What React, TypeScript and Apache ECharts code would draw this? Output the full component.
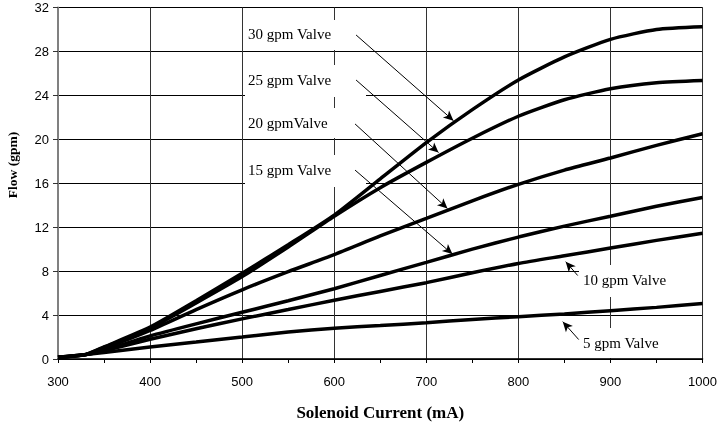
import React, { useEffect, useRef } from "react";
import * as echarts from "echarts";

const currents = [300, 330, 350, 400, 450, 500, 550, 600, 650, 700, 750, 800, 850, 900, 950, 1000];
const flow30 = [0.15, 0.4, 1.1, 2.9, 5.3, 7.8, 10.4, 13.1, 16.4, 19.7, 22.7, 25.4, 27.5, 29.1, 30.0, 30.25];
const flow25 = [0.15, 0.4, 1.05, 2.8, 5.1, 7.5, 10.2, 13.0, 15.6, 17.9, 20.1, 22.1, 23.6, 24.6, 25.15, 25.35];
const flow20 = [0.15, 0.4, 0.95, 2.6, 4.5, 6.3, 7.95, 9.5, 11.2, 12.8, 14.4, 15.9, 17.2, 18.3, 19.45, 20.5];
const flow15 = [0.15, 0.4, 0.8, 2.1, 3.2, 4.25, 5.3, 6.4, 7.6, 8.8, 10.0, 11.1, 12.1, 13.0, 13.9, 14.7];
const flow10 = [0.15, 0.4, 0.75, 1.8, 2.75, 3.65, 4.5, 5.35, 6.15, 6.95, 7.85, 8.7, 9.4, 10.1, 10.8, 11.45];
const flow5 = [0.15, 0.4, 0.6, 1.1, 1.55, 2.0, 2.45, 2.8, 3.05, 3.3, 3.6, 3.85, 4.1, 4.4, 4.7, 5.05];

const seriesNames = ["30 gpm Valve", "25 gpm Valve", "20 gpmValve", "15 gpm Valve", "10 gpm Valve", "5 gpm Valve"];
const seriesValues = [flow30, flow25, flow20, flow15, flow10, flow5];
// arrow start / end in data coordinates (mA, gpm)
const arrowStarts = [[623.7, 29.5], [623.7, 25.4], [622.6, 21.4], [622.6, 17.2], [864.4, 7.6], [865.5, 1.77]];
const arrowEnds = [[729.5, 21.7], [713.3, 18.8], [723, 13.7], [728.4, 9.55], [851.4, 8.86], [848.2, 3.4]];

const xTicks = { min: 300, max: 1000, step: 100 };
const yTicks = { min: 0, max: 32, step: 4 };

const serif = '"Liberation Serif", "Times New Roman", serif';
const sans = '"Liberation Sans", Arial, sans-serif';

export default function App() {
  const ref = useRef<HTMLDivElement>(null);
  useEffect(() => {
    if (!ref.current) return;
    const chart = echarts.init(ref.current, null, { renderer: "svg" });
    const boxes = [
      { x: 245, y: 20, w: 121, h: 30, tx: 248, ty: 34 },
      { x: 245, y: 65, w: 121, h: 32, tx: 248, ty: 80 },
      { x: 245, y: 108, w: 121, h: 30, tx: 248, ty: 123 },
      { x: 245, y: 155, w: 121, h: 32, tx: 248, ty: 170 },
      { x: 579, y: 265, w: 123, h: 32, tx: 583, ty: 280 },
      { x: 579, y: 328, w: 123, h: 30, tx: 583, ty: 343 },
    ];
    const graphics: any[] = [];
    boxes.forEach((b, i) => {
      graphics.push({
        type: "rect",
        z: 1,
        silent: true,
        shape: { x: b.x, y: b.y, width: b.w, height: b.h },
        style: { fill: "#fff" },
      });
      graphics.push({
        type: "text",
        z: 1,
        silent: true,
        x: b.tx,
        y: b.ty,
        style: {
          text: seriesNames[i],
          fill: "#000",
          font: `15px ${serif}`,
          textAlign: "left",
          textVerticalAlign: "middle",
        },
      });
    });
    graphics.push({
      type: "text",
      z: 1,
      silent: true,
      x: 12,
      y: 165,
      rotation: Math.PI / 2,
      style: {
        text: "Flow (gpm)",
        fill: "#000",
        font: `bold 13.5px ${serif}`,
        textAlign: "center",
        textVerticalAlign: "middle",
      },
    });

    const option: any = {
      animation: false,
      grid: {
        left: 58,
        top: 7.5,
        width: 649,
        height: 352,
        show: true,
        borderColor: "#808080",
        borderWidth: 1,
        containLabel: false,
      },
      xAxis: {
        type: "value",
        min: xTicks.min,
        max: xTicks.max,
        interval: xTicks.step,
        name: "Solenoid Current (mA)",
        nameLocation: "middle",
        nameGap: 45,
        nameTextStyle: { fontFamily: serif, fontWeight: "bold", fontSize: 17, color: "#000" },
        axisLine: { show: true, onZero: false, lineStyle: { color: "#000", width: 1.5 } },
        axisTick: { show: true, length: 4, lineStyle: { color: "#000" } },
        minorTick: { show: true, splitNumber: 2, length: 4, lineStyle: { color: "#000" } },
        axisLabel: {
          fontFamily: sans,
          fontSize: 13,
          color: "#000",
          margin: 16,
          formatter: (v: number) => String(v),
        },
        splitLine: { show: true, lineStyle: { color: "#333", width: 1 } },
      },
      yAxis: {
        type: "value",
        min: yTicks.min,
        max: yTicks.max,
        interval: yTicks.step,
        axisLine: { show: true, lineStyle: { color: "#808080", width: 2 } },
        axisTick: { show: true, length: 5, lineStyle: { color: "#333" } },
        axisLabel: { fontFamily: sans, fontSize: 13, color: "#000", margin: 9 },
        splitLine: { show: true, lineStyle: { color: "#000", width: 1 } },
      },
      graphic: graphics,
      series: seriesValues.map((vals, i) => ({
        name: seriesNames[i],
        type: "line",
        z: 2,
        data: currents.map((c, j) => [c, vals[j]]),
        showSymbol: false,
        symbol: "none",
        smooth: 0.2,
        lineStyle: { color: "#000", width: 3.5 },
        markLine: {
          silent: true,
          symbol: ["none", "arrow"],
          symbolSize: [7, 10],
          label: { show: false },
          lineStyle: { color: "#000", width: 1, type: "solid" },
          data: [[{ coord: arrowStarts[i] }, { coord: arrowEnds[i] }]],
        },
      })),
    };
    chart.setOption(option);
    return () => chart.dispose();
  }, []);
  return <div ref={ref} style={{ position: "fixed", left: 0, top: 0, width: 720, height: 426 }} />;
}
